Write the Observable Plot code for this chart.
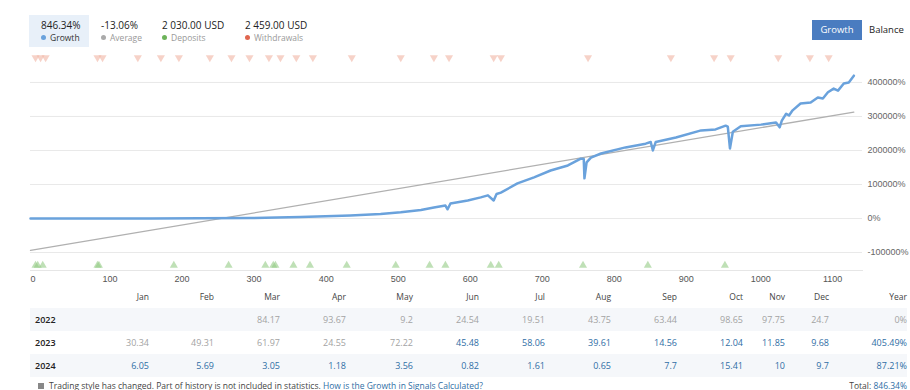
<!DOCTYPE html>
<html>
<head>
<meta charset="utf-8">
<script src="https://cdn.jsdelivr.net/npm/d3@7"></script>
<script src="https://cdn.jsdelivr.net/npm/@observablehq/plot@0.6"></script>
<style>
  html, body { margin: 0; padding: 0; background: #fff; }
  body { width: 910px; height: 390px; position: relative; overflow: hidden; font-family: "Open Sans", "Noto Sans", sans-serif; }
  #chart { position: absolute; left: 0; top: 0; }
  .stat { position: absolute; top: 15px; height: 32px; }
  .stat .v { position: absolute; top: 3px; font-size: 10px; color: #222; white-space: nowrap; }
  .stat .l { position: absolute; top: 17px; font-size: 8.5px; color: #999; white-space: nowrap; }
  .stat .l i { display: inline-block; width: 5px; height: 5px; border-radius: 50%; margin-right: 4px; vertical-align: 1px; }
  #btns { position: absolute; top: 20px; left: 812px; height: 20px; font-size: 9.5px; }
  #btns .on { position: absolute; left: 0; width: 50px; height: 20px; background: #4a7cc0; color: #fff; text-align: center; line-height: 20px; }
  #btns .off { position: absolute; left: 57px; height: 20px; color: #222; line-height: 20px; }
  #tbl { position: absolute; left: 30px; top: 285px; width: 877px; border-collapse: collapse; table-layout: fixed; font-size: 9px; }
  #tbl td { padding: 0; height: 23px; text-align: right; white-space: nowrap; }
  #tbl tr.h td { font-size: 8.5px; color: #444; }
  #tbl tr.band td { background: #f5f7fa; }
  #tbl td.y { text-align: left; padding-left: 5px; color: #222; font-weight: 600; }
  .gray { color: #a3a3a3; }
  .blue { color: #2f6ea5; }
  #foot { position: absolute; left: 38px; top: 380px; font-size: 8.5px; color: #444; white-space: nowrap; }
  #foot .sq { display: inline-block; width: 6px; height: 6px; background: #888; margin-right: 5px; vertical-align: 0; }
  #total { position: absolute; right: 3px; top: 380px; font-size: 8.5px; color: #444; white-space: nowrap; }
</style>
</head>
<body>
<div id="chart"></div>
<div id="header"></div>
<div id="btns"><div class="on">Growth</div><div class="off">Balance</div></div>
<table id="tbl"></table>
<div id="foot"><span class="sq"></span>Trading style has changed. Part of history is not included in statistics. <span class="blue">How is the Growth in Signals Calculated?</span></div>
<div id="total">Total: <span class="blue">846.34%</span></div>
<script>
// ---- Data ----
const growthIdx = [0, 97, 167, 236, 306, 375, 444, 486, 514, 542, 560, 576, 579, 583, 607, 625, 635, 643, 647, 653,
  676, 699, 722, 746, 764, 768, 769, 772, 778, 792, 826, 854, 861, 864, 868, 896, 931, 951, 965, 968, 971, 975,
  986, 1014, 1035, 1040, 1043, 1049, 1053, 1058, 1069, 1083, 1093, 1100, 1107, 1115, 1121, 1129, 1136, 1143];
const growthVal = [0, 0, 0, 500, 1500, 4000, 9000, 13000, 18000, 25000, 32000, 38000, 27000, 44000, 53000, 62000, 68000, 53000, 72000, 76000,
  103000, 121000, 141000, 156000, 176000, 175000, 118000, 165000, 179000, 191000, 209000, 220000, 225000, 200000, 225000, 238000, 259000, 262000, 273000, 270000, 206000, 255000,
  271000, 276000, 282000, 268000, 288000, 308000, 303000, 318000, 338000, 341000, 356000, 353000, 371000, 382000, 376000, 397000, 400000, 420000];
const trendIdx = [0, 1143];
const trendVal = [-94000, 313000];
const withdrawals = [7, 14, 21, 93, 100, 149, 181, 206, 249, 279, 304, 331, 347, 369, 392, 446, 514, 560, 581, 643, 653, 774, 889, 949, 972, 1038, 1082, 1108];
const deposits = [7, 10, 17, 93, 95, 199, 275, 326, 337, 340, 365, 388, 439, 507, 554, 576, 639, 650, 767, 857, 964];
const yTicks = [-100000, 0, 100000, 200000, 300000, 400000];
const xTicks = [0, 100, 200, 300, 400, 500, 600, 700, 800, 900, 1000, 1100];

const statValues = ["846.34%", "-13.06%", "2 030.00 USD", "2 459.00 USD"];
const statLabels = ["Growth", "Average", "Deposits", "Withdrawals"];
const statColors = ["#6aa2dc", "#aaaaaa", "#6db35a", "#e0664f"];

const months = ["Jan", "Feb", "Mar", "Apr", "May", "Jun", "Jul", "Aug", "Sep", "Oct", "Nov", "Dec"];
const years = ["2022", "2023", "2024"];
const v2022 = [null, null, 84.17, 93.67, 9.2, 24.54, 19.51, 43.75, 63.44, 98.65, 97.75, 24.7];
const v2023 = [30.34, 49.31, 61.97, 24.55, 72.22, 45.48, 58.06, 39.61, 14.56, 12.04, 11.85, 9.68];
const v2024 = [6.05, 5.69, 3.05, 1.18, 3.56, 0.82, 1.61, 0.65, 7.7, 15.41, 10, 9.7];
const yearTotals = ["0%", "405.49%", "87.21%"];
const countedFrom = {year: 1, month: 5}; // statistics counted from Jun 2023

// ---- Chart ----
const growth = growthIdx.map((x, i) => ({x, y: growthVal[i]}));
const trend = trendIdx.map((x, i) => ({x, y: trendVal[i]}));

const chart = Plot.plot({
  width: 910,
  height: 290,
  marginTop: 50,
  marginBottom: 20,
  marginLeft: 30,
  marginRight: 48,
  x: {domain: [0, 1155]},
  y: {domain: [-153000, 494000]},
  style: {fontFamily: "'Liberation Sans', Arial, sans-serif", fontSize: "9px", background: "transparent", overflow: "visible"},
  marks: [
    Plot.gridY(yTicks, {stroke: "#e9e9e9", strokeOpacity: 1}),
    Plot.frame({anchor: "bottom", stroke: "#e6e6e6"}),
    Plot.axisY(yTicks, {anchor: "right", tickSize: 0, tickPadding: 5, tickFormat: d => d + "%", fill: "#666", label: null}),
    Plot.axisX(xTicks, {anchor: "bottom", tickSize: 0, tickPadding: 5, textAnchor: "start", tickFormat: d => String(d), fill: "#555", label: null}),
    Plot.line(trend, {x: "x", y: "y", stroke: "#b0b0b0", strokeWidth: 1.3}),
    Plot.line(growth, {x: "x", y: "y", stroke: "#6aa2dc", strokeWidth: 2.5, curve: "linear"}),
    Plot.dotX(withdrawals, {frameAnchor: "top", dy: 7, symbol: "triangle", rotate: 180, r: 3, fill: "#f0b4a4", fillOpacity: 0.6, stroke: "none"}),
    Plot.dotX(deposits, {frameAnchor: "bottom", dy: -5, symbol: "triangle", r: 3, fill: "#94cc85", fillOpacity: 0.6, stroke: "none"})
  ]
});
document.getElementById("chart").appendChild(chart);

// ---- Header stats ----
const header = document.getElementById("header");
const statLeft = [29, 89, 150, 233];
const statWidth = [60, 61, 83, 90];
statValues.forEach((v, i) => {
  const d = document.createElement("div");
  d.className = "stat";
  d.style.left = statLeft[i] + "px";
  d.style.width = statWidth[i] + "px";
  if (i === 0) d.style.background = "#e8f0f9";
  d.innerHTML = `<div class="v" style="left:12px">${v}</div><div class="l" style="left:12px${i===0?';color:#333':''}"><i style="background:${statColors[i]}"></i>${statLabels[i]}</div>`;
  header.appendChild(d);
});

// ---- Monthly table ----
const colWidths = [54, 65, 65, 66, 66, 67, 66, 66, 66, 66, 66, 42, 44, 78];
const tbl = document.getElementById("tbl");
const cg = document.createElement("colgroup");
colWidths.forEach(w => { const c = document.createElement("col"); c.style.width = w + "px"; cg.appendChild(c); });
tbl.appendChild(cg);
const hr = document.createElement("tr");
hr.className = "h";
hr.innerHTML = "<td></td>" + months.map(m => `<td>${m}</td>`).join("") + "<td>Year</td>";
tbl.appendChild(hr);
[v2022, v2023, v2024].forEach((row, r) => {
  const tr = document.createElement("tr");
  if (r !== 1) tr.className = "band";
  let html = `<td class="y">${years[r]}</td>`;
  row.forEach((v, m) => {
    const counted = r > countedFrom.year || (r === countedFrom.year && m >= countedFrom.month);
    html += `<td class="${counted ? "blue" : "gray"}">${v == null ? "" : v}</td>`;
  });
  const yc = r >= countedFrom.year;
  html += `<td class="${yc ? "blue" : "gray"}">${yearTotals[r]}</td>`;
  tr.innerHTML = html;
  tbl.appendChild(tr);
});
</script>
</body>
</html>
